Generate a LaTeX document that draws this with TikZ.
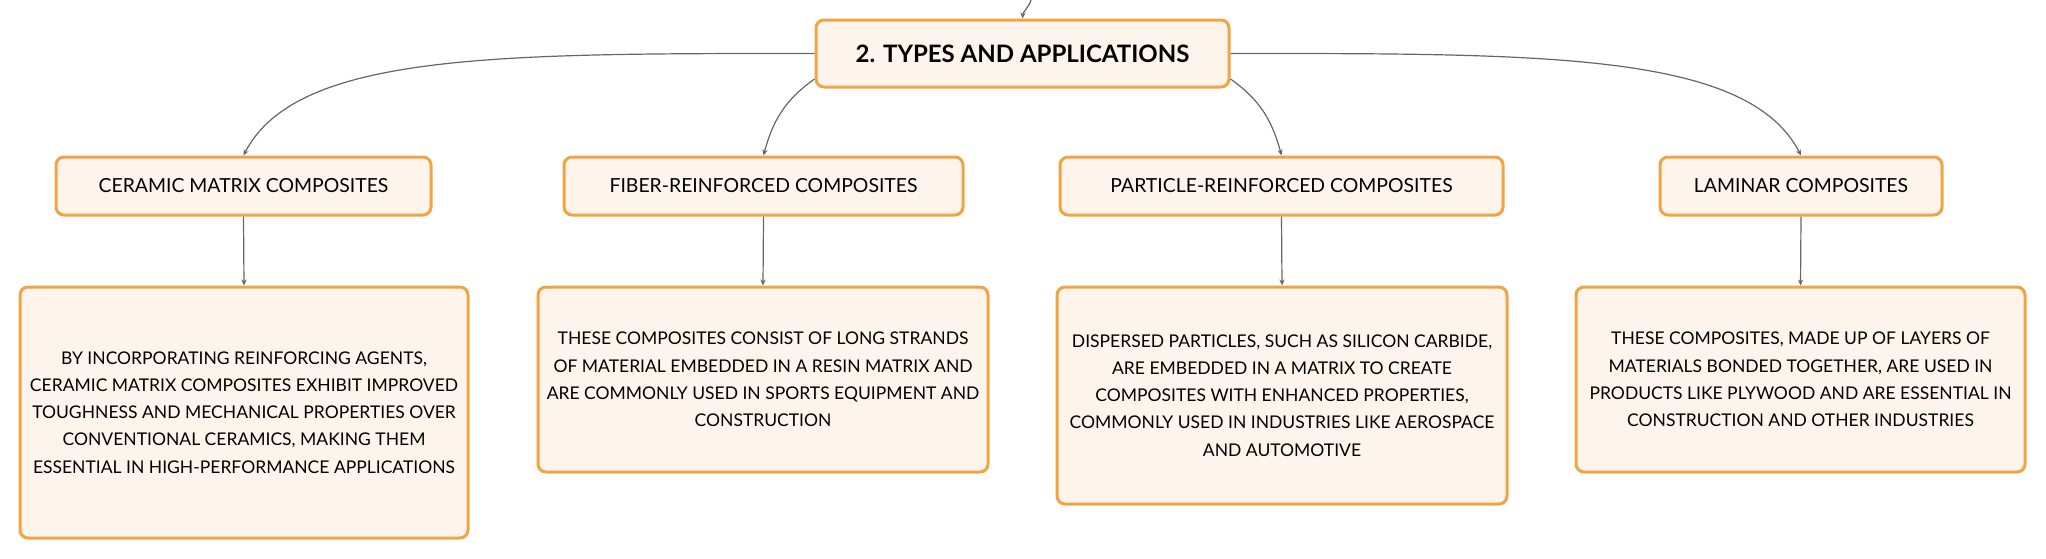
\documentclass[tikz,border=0pt]{standalone}
\usepackage{fontspec}
\setmainfont{Lato}
\usetikzlibrary{arrows.meta}
\definecolor{boxline}{HTML}{F2A444}
\definecolor{boxfill}{HTML}{FDF4EC}
\definecolor{linkgray}{HTML}{666666}

\begin{document}
\begin{tikzpicture}[x=0.5pt,y=0.5pt,
  box/.style={draw=boxline,fill=boxfill,line width=1.5pt,rounded corners=4pt,align=center,inner sep=0pt},
  head/.style={box,minimum height=29pt,font=\fontsize{9.7}{12}\selectfont},
  desc/.style={box,font=\fontsize{8.75}{13.6}\selectfont},
  link/.style={draw=linkgray,line width=0.6pt,-{Stealth[length=3pt,width=2.6pt]}}]

\useasboundingbox (0,0) rectangle (2046,-558);

\node[box,minimum width=206.5pt,minimum height=33.5pt,font=\fontsize{12}{14}\selectfont\bfseries] (root) at (1022.5,-53.5) {2. TYPES AND APPLICATIONS};

\node[head,minimum width=187.5pt] (cmc) at (243.5,-186) {CERAMIC MATRIX COMPOSITES};
\node[head,minimum width=199.5pt] (frc) at (763.5,-186) {FIBER-REINFORCED COMPOSITES};
\node[head,minimum width=221.5pt] (prc) at (1281.5,-186) {PARTICLE-REINFORCED COMPOSITES};
\node[head,minimum width=141pt] (lam) at (1801,-186) {LAMINAR COMPOSITES};

\node[desc,minimum width=224pt,minimum height=125.5pt] (cmc desc) at (244,-412.5) {BY INCORPORATING REINFORCING AGENTS,\\CERAMIC MATRIX COMPOSITES EXHIBIT IMPROVED\\TOUGHNESS AND MECHANICAL PROPERTIES OVER\\CONVENTIONAL CERAMICS, MAKING THEM\\ESSENTIAL IN HIGH-PERFORMANCE APPLICATIONS};
\node[desc,minimum width=225pt,minimum height=92.5pt] (frc desc) at (763,-379.5) {THESE COMPOSITES CONSIST OF LONG STRANDS\\OF MATERIAL EMBEDDED IN A RESIN MATRIX AND\\ARE COMMONLY USED IN SPORTS EQUIPMENT AND\\CONSTRUCTION};
\node[desc,minimum width=225pt,minimum height=108.5pt] (prc desc) at (1282,-395.5) {DISPERSED PARTICLES, SUCH AS SILICON CARBIDE,\\ARE EMBEDDED IN A MATRIX TO CREATE\\COMPOSITES WITH ENHANCED PROPERTIES,\\COMMONLY USED IN INDUSTRIES LIKE AEROSPACE\\AND AUTOMOTIVE};
\node[desc,minimum width=224.5pt,minimum height=92.5pt] (lam desc) at (1800.5,-379.5) {THESE COMPOSITES, MADE UP OF LAYERS OF\\MATERIALS BONDED TOGETHER, ARE USED IN\\PRODUCTS LIKE PLYWOOD AND ARE ESSENTIAL IN\\CONSTRUCTION AND OTHER INDUSTRIES};

\coordinate (up) at (1031,0);
\draw[link] (up) to[out=255,in=85] (root.north);

\draw[link] (root.west) .. controls +(-316,0) and +(53,103) .. (cmc.north);
\draw[link] (root.east) .. controls +(316,0) and +(-53,103) .. (lam.north);
\draw[link] (root.187) to[out=215,in=75] (frc.north);
\draw[link] (root.353) to[out=-35,in=105] (prc.north);

\foreach \n in {cmc,frc,prc,lam}
{\draw[link] (\n.south) -- (\n\space desc.north);}

\end{tikzpicture}
\end{document}
